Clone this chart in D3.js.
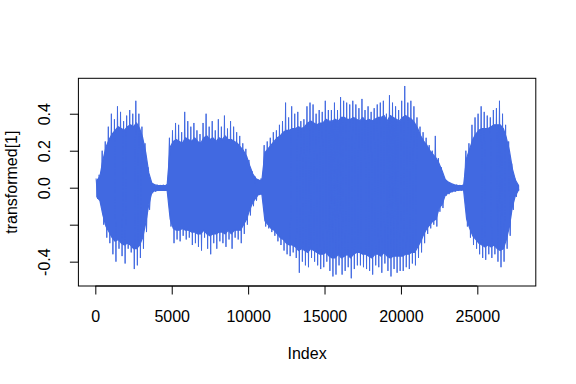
<!DOCTYPE html>
<html><head><meta charset="utf-8">
<script src="https://cdn.jsdelivr.net/npm/d3@7"></script>
<style>
html,body{margin:0;padding:0;background:#fff;}
svg text{font-family:"Liberation Sans",Arial,Helvetica,sans-serif;fill:#000;}
</style></head>
<body>
<svg id="chart" width="576" height="384"></svg>
<script>
// number of samples in the signal and envelope bin width (samples)
const nSamples = 27718;
const binWidth = 200;
// peak envelope: per-bin maximum / minimum of transformed[1]
const peakMax = [0.05,0.07,0.20,0.25,0.33,0.40,0.37,0.44,0.41,0.36,0.39,0.42,0.40,0.47,0.40,0.33,0.24,0.11,0.03,0.02,
0.016,0.015,0.016,0.018,0.27,0.31,0.35,0.34,0.30,0.41,0.36,0.33,0.35,0.31,0.29,0.35,0.40,0.33,0.36,0.31,
0.37,0.33,0.39,0.32,0.36,0.33,0.30,0.28,0.24,0.21,0.15,0.09,0.06,0.045,0.05,0.23,0.25,0.27,0.30,0.31,
0.34,0.36,0.46,0.38,0.44,0.40,0.41,0.36,0.37,0.44,0.46,0.45,0.40,0.42,0.41,0.47,0.42,0.42,0.46,0.42,
0.49,0.47,0.46,0.45,0.47,0.45,0.43,0.48,0.42,0.44,0.41,0.43,0.45,0.46,0.47,0.40,0.50,0.46,0.44,0.42,
0.47,0.55,0.46,0.47,0.44,0.38,0.33,0.30,0.27,0.23,0.20,0.28,0.16,0.11,0.05,0.035,0.025,0.02,0.016,0.015,
0.016,0.20,0.24,0.34,0.38,0.40,0.44,0.41,0.39,0.38,0.42,0.43,0.47,0.40,0.34,0.25,0.13,0.05,0.015];
const peakMin = [-0.06,-0.08,-0.20,-0.27,-0.30,-0.36,-0.40,-0.33,-0.37,-0.41,-0.33,-0.35,-0.44,-0.42,-0.38,-0.33,-0.24,-0.12,-0.03,-0.022,
-0.018,-0.016,-0.018,-0.02,-0.21,-0.30,-0.28,-0.29,-0.26,-0.28,-0.27,-0.31,-0.30,-0.32,-0.34,-0.27,-0.33,-0.36,-0.30,-0.33,
-0.29,-0.30,-0.32,-0.28,-0.33,-0.27,-0.28,-0.30,-0.25,-0.20,-0.15,-0.10,-0.07,-0.04,-0.04,-0.21,-0.22,-0.24,-0.26,-0.29,
-0.31,-0.34,-0.36,-0.37,-0.35,-0.38,-0.46,-0.40,-0.42,-0.43,-0.38,-0.40,-0.42,-0.44,-0.43,-0.40,-0.45,-0.48,-0.47,-0.42,
-0.47,-0.45,-0.43,-0.49,-0.44,-0.42,-0.42,-0.43,-0.44,-0.45,-0.47,-0.42,-0.43,-0.46,-0.41,-0.45,-0.48,-0.44,-0.46,-0.45,
-0.45,-0.43,-0.44,-0.41,-0.42,-0.38,-0.35,-0.30,-0.25,-0.22,-0.20,-0.21,-0.13,-0.11,-0.045,-0.035,-0.025,-0.022,-0.018,-0.016,
-0.018,-0.21,-0.27,-0.31,-0.33,-0.36,-0.38,-0.39,-0.36,-0.38,-0.36,-0.40,-0.43,-0.40,-0.33,-0.26,-0.12,-0.05,-0.015];
// dense core envelope (where the trace fills solidly), same bins
const coreMax = [0.04,0.06,0.15,0.22,0.26,0.29,0.31,0.33,0.32,0.31,0.33,0.34,0.33,0.35,0.32,0.27,0.19,0.08,0.025,0.015,
0.012,0.012,0.012,0.013,0.22,0.25,0.26,0.25,0.24,0.27,0.26,0.25,0.27,0.25,0.24,0.27,0.28,0.26,0.27,0.25,
0.27,0.26,0.28,0.26,0.26,0.25,0.24,0.22,0.20,0.17,0.12,0.075,0.05,0.04,0.04,0.19,0.21,0.23,0.25,0.27,
0.28,0.30,0.31,0.31,0.32,0.32,0.33,0.32,0.33,0.35,0.36,0.35,0.34,0.35,0.35,0.37,0.36,0.36,0.37,0.36,
0.38,0.38,0.37,0.37,0.38,0.37,0.36,0.38,0.36,0.37,0.36,0.37,0.38,0.38,0.39,0.36,0.39,0.38,0.37,0.36,
0.38,0.39,0.38,0.37,0.35,0.32,0.28,0.25,0.23,0.20,0.18,0.16,0.13,0.09,0.045,0.03,0.022,0.016,0.013,0.012,
0.012,0.16,0.21,0.26,0.29,0.31,0.32,0.32,0.32,0.33,0.34,0.34,0.34,0.32,0.27,0.20,0.10,0.04,0.012];
const coreMin = [-0.05,-0.07,-0.15,-0.21,-0.24,-0.27,-0.29,-0.28,-0.30,-0.31,-0.30,-0.31,-0.33,-0.33,-0.31,-0.27,-0.19,-0.09,-0.025,-0.016,
-0.014,-0.013,-0.014,-0.015,-0.17,-0.22,-0.23,-0.23,-0.22,-0.23,-0.23,-0.24,-0.24,-0.25,-0.25,-0.23,-0.25,-0.26,-0.25,-0.25,
-0.24,-0.24,-0.25,-0.23,-0.25,-0.23,-0.23,-0.23,-0.20,-0.17,-0.12,-0.08,-0.055,-0.035,-0.035,-0.18,-0.20,-0.22,-0.23,-0.25,
-0.27,-0.28,-0.30,-0.31,-0.31,-0.32,-0.34,-0.33,-0.34,-0.35,-0.33,-0.34,-0.35,-0.36,-0.36,-0.35,-0.37,-0.38,-0.38,-0.36,
-0.38,-0.37,-0.36,-0.38,-0.36,-0.35,-0.35,-0.36,-0.36,-0.37,-0.38,-0.36,-0.36,-0.37,-0.35,-0.37,-0.38,-0.37,-0.37,-0.37,
-0.37,-0.36,-0.36,-0.35,-0.35,-0.32,-0.29,-0.25,-0.22,-0.20,-0.18,-0.17,-0.11,-0.09,-0.04,-0.03,-0.022,-0.017,-0.015,-0.013,
-0.013,-0.17,-0.22,-0.26,-0.28,-0.30,-0.31,-0.32,-0.31,-0.32,-0.31,-0.33,-0.34,-0.33,-0.28,-0.21,-0.10,-0.04,-0.012];
const xTicks = [0,5000,10000,15000,20000,25000];
const yTicks = [-0.4,-0.2,0.0,0.2,0.4];
const yTickLabels = ["-0.4","","0.0","0.2","0.4"];
const xLabel = "Index";
const yLabel = "transformed[1]";

const svg = d3.select("#chart");
const L = 78.4, R = 535.8, T = 78.3, B = 286;
const pad = 0.04;
const xr = nSamples - 1;
const x = d3.scaleLinear().domain([1 - pad*xr, nSamples + pad*xr]).range([L, R]);
const yMax = d3.max(peakMax), yMin = d3.min(peakMin), yr = yMax - yMin;
const y = d3.scaleLinear().domain([yMin - pad*yr, yMax + pad*yr]).range([B, T]);
const col = "#4169E1";

// solid core
const core = coreMax.map((v,k)=>({i:Math.min(k*binWidth + binWidth/2, nSamples), hi:v, lo:coreMin[k]}));
svg.append("path").datum(core)
  .attr("d", d3.area().x(d=>x(d.i)).y0(d=>y(d.lo)).y1(d=>y(d.hi)))
  .attr("fill",col).attr("stroke",col).attr("stroke-width",1.2).attr("stroke-linejoin","round");

// trace through the per-bin peaks
const pts = [];
peakMax.forEach((v,k)=>{
  pts.push([Math.min(k*binWidth + binWidth*0.25, nSamples), v]);
  pts.push([Math.min(k*binWidth + binWidth*0.75, nSamples), peakMin[k]]);
});
svg.append("path").datum(pts)
  .attr("d", d3.line().x(d=>x(d[0])).y(d=>y(d[1])))
  .attr("fill","none").attr("stroke",col).attr("stroke-width",1);

// box
svg.append("rect").attr("x",L).attr("y",T).attr("width",R-L).attr("height",B-T)
  .attr("fill","none").attr("stroke","#000").attr("stroke-width",1);

// x axis
const xa = svg.append("g").attr("transform",`translate(0,${B})`)
  .call(d3.axisBottom(x).tickValues(xTicks).tickFormat(d3.format("d")).tickSize(8.5).tickSizeOuter(0));
xa.select(".domain").attr("d",`M${x(xTicks[0])},0H${x(xTicks[xTicks.length-1])}`);
xa.selectAll("text").attr("font-size",16).attr("font-family","Liberation Sans, Arial, sans-serif").attr("dy",0).attr("y",35.5);

// y axis
const ya = svg.append("g").attr("transform",`translate(${L},0)`)
  .call(d3.axisLeft(y).tickValues(yTicks).tickFormat((d,i)=>yTickLabels[i]).tickSize(8.5).tickSizeOuter(0));
ya.select(".domain").attr("d",`M0,${y(yTicks[0])}V${y(yTicks[yTicks.length-1])}`);
ya.selectAll("text").attr("font-size",16).attr("font-family","Liberation Sans, Arial, sans-serif")
  .attr("text-anchor","middle").attr("dy",0).attr("x",0)
  .attr("transform","translate(-28.5,0) rotate(-90)");

svg.append("text").attr("x",(L+R)/2).attr("y",359).attr("text-anchor","middle").attr("font-size",16).text(xLabel);
svg.append("text").attr("transform",`translate(17,${(T+B)/2}) rotate(-90)`).attr("text-anchor","middle").attr("font-size",16).text(yLabel);
</script>
</body></html>
